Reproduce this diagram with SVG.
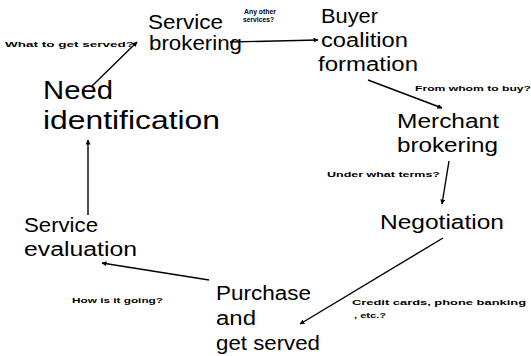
<svg xmlns="http://www.w3.org/2000/svg" width="531" height="356" viewBox="0 0 531 356">
  <style>
    .stage { font-family: "Liberation Sans", Arial, sans-serif; font-size: 20px; fill: #000; }
    .big { font-size: 26px; }
    .q { font-family: "Liberation Sans", Arial, sans-serif; font-size: 8px; font-weight: bold; fill: #000; }
    .edge { stroke: #000; stroke-width: 1.4; fill: none; marker-end: url(#head); }
  </style>
  <defs>
    <marker id="head" viewBox="0 0 10 10" refX="9" refY="5" markerWidth="5" markerHeight="5" orient="auto" markerUnits="userSpaceOnUse">
      <path d="M0,0 L10,5 L0,10 z" fill="#000"/>
    </marker>
  </defs>
  <rect width="531" height="356" fill="#fff"/>

  <g id="connectors">
    <line class="edge" x1="92" y1="86" x2="137" y2="42"/>
    <path class="edge" d="M230,42 L318,40"/>
    <line class="edge" x1="368" y1="80" x2="442" y2="108"/>
    <path class="edge" d="M449,161 Q446,180 442,204"/>
    <line class="edge" x1="443" y1="238" x2="300" y2="324"/>
    <line class="edge" x1="209" y1="280" x2="102" y2="263"/>
    <line class="edge" x1="88" y1="215" x2="88" y2="140"/>
  </g>

  <g id="need-identification">
    <text class="stage big" x="43" y="99" textLength="70" lengthAdjust="spacingAndGlyphs">Need</text>
    <text class="stage big" x="43" y="129" textLength="177" lengthAdjust="spacingAndGlyphs">identification</text>
  </g>
  <g id="service-brokering">
    <text class="stage" x="148" y="29" textLength="75" lengthAdjust="spacingAndGlyphs">Service</text>
    <text class="stage" x="149" y="50" textLength="93" lengthAdjust="spacingAndGlyphs">brokering</text>
  </g>
  <g id="buyer-coalition">
    <text class="stage" x="321" y="23" textLength="57" lengthAdjust="spacingAndGlyphs">Buyer</text>
    <text class="stage" x="321" y="47" textLength="87" lengthAdjust="spacingAndGlyphs">coalition</text>
    <text class="stage" x="318" y="71" textLength="100" lengthAdjust="spacingAndGlyphs">formation</text>
  </g>
  <g id="merchant-brokering">
    <text class="stage" x="397" y="128" textLength="102" lengthAdjust="spacingAndGlyphs">Merchant</text>
    <text class="stage" x="397" y="152" textLength="101" lengthAdjust="spacingAndGlyphs">brokering</text>
  </g>
  <g id="negotiation">
    <text class="stage" x="380" y="229" textLength="124" lengthAdjust="spacingAndGlyphs">Negotiation</text>
  </g>
  <g id="purchase">
    <text class="stage" x="216" y="300" textLength="95" lengthAdjust="spacingAndGlyphs">Purchase</text>
    <text class="stage" x="216" y="325" textLength="40" lengthAdjust="spacingAndGlyphs">and</text>
    <text class="stage" x="216" y="350" textLength="104" lengthAdjust="spacingAndGlyphs">get served</text>
  </g>
  <g id="service-evaluation">
    <text class="stage" x="24" y="232" textLength="74" lengthAdjust="spacingAndGlyphs">Service</text>
    <text class="stage" x="24" y="256" textLength="113" lengthAdjust="spacingAndGlyphs">evaluation</text>
  </g>

  <g id="edge-labels">
    <text class="q" x="5" y="47" textLength="129" lengthAdjust="spacingAndGlyphs">What to get served?</text>
    <text class="q" x="244" y="14" textLength="32" lengthAdjust="spacingAndGlyphs">Any other</text>
    <text class="q" x="243" y="22" textLength="31" lengthAdjust="spacingAndGlyphs">services?</text>
    <text class="q" x="415" y="91" textLength="116" lengthAdjust="spacingAndGlyphs">From whom to buy?</text>
    <text class="q" x="327" y="177" textLength="113" lengthAdjust="spacingAndGlyphs">Under what terms?</text>
    <text class="q" x="72" y="303" textLength="91" lengthAdjust="spacingAndGlyphs">How is it going?</text>
    <text class="q" x="352" y="305" textLength="174" lengthAdjust="spacingAndGlyphs">Credit cards, phone banking</text>
    <text class="q" x="354" y="318" textLength="32" lengthAdjust="spacingAndGlyphs">, etc.?</text>
  </g>
</svg>
